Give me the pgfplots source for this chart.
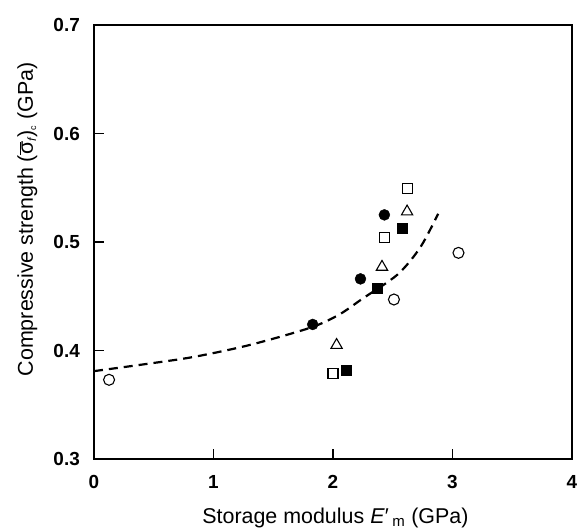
\documentclass[border=0pt]{standalone}
\usepackage{fontspec}
\setmainfont{Liberation Sans}
\usepackage{pgfplots}
\pgfplotsset{compat=1.18}
\begin{document}
\begin{tikzpicture}
\begin{axis}[
  scale only axis,
  width=478bp, height=434bp,
  xmin=0, xmax=4, ymin=0.3, ymax=0.7,
  xtick={0,1,2,3,4}, ytick={0.3,0.4,0.5,0.6,0.7},
  yticklabel style={/pgf/number format/fixed,/pgf/number format/precision=1,/pgf/number format/fixed zerofill, anchor=east, xshift=-14bp},
  xticklabel style={anchor=north, yshift=-16bp},
  /pgf/number format/assume math mode=true,
  ticklabel style={font=\fontsize{19}{20}\selectfont\bfseries, inner sep=0pt},
  tick pos=left,
  tick align=inside,
  major tick length=10bp,
  axis line style={line width=2bp},
  every tick/.style={line width=1.6bp, black},
  xlabel={Storage modulus \textit{E}′\,\textsubscript{m} (GPa)},
  ylabel={Compressive strength (\ensuremath{\overline{\mbox{σ}}_{\mbox{\fontsize{12}{12}\selectfont\itshape f}}})\ensuremath{_{\mbox{\fontsize{9}{9}\selectfont c}}} (GPa)},
  label style={font=\fontsize{21.5}{24}\selectfont, inner sep=0pt},
  xlabel style={at={(axis description cs:0.505,0)}, anchor=base, yshift=-64bp},
  ylabel style={at={(axis description cs:0,0.552)}, anchor=base, yshift=61bp},
]
% fitted dashed curve
\addplot[black, line width=2.2bp, dash pattern=on 9bp off 6bp, smooth, tension=0.5] coordinates {
 (0,0.381) (0.4,0.387) (0.83,0.394) (1.3,0.405) (1.81,0.421) (2.05,0.433) (2.25,0.448) (2.54,0.470) (2.73,0.495) (2.88,0.526)
};
% filled circles
\addplot[only marks, mark=*, mark size=5.5bp, black] coordinates {
 (1.83,0.424) (2.23,0.466) (2.43,0.525)
};
% open circles
\addplot[only marks, mark=o, mark size=5.5bp, black, mark options={line width=1.1bp}] coordinates {
 (0.126,0.373) (2.51,0.447) (3.05,0.490)
};
% open triangles
\addplot[only marks, mark=triangle, mark size=6.5bp, black, mark options={line width=1.1bp}] coordinates {
 (2.03,0.405) (2.41,0.477) (2.62,0.528)
};
% open squares
\addplot[only marks, mark=square, mark size=5bp, black, mark options={line width=1.1bp}] coordinates {
 (2.00,0.379) (2.43,0.504) (2.62,0.549)
};
% filled squares
\addplot[only marks, mark=square*, mark size=5bp, black] coordinates {
 (2.11,0.382) (2.37,0.457) (2.58,0.513)
};
\end{axis}
\path (current axis.south west) ++(-94bp,-69bp);
\path (current axis.north east) ++(6bp,25bp);
\end{tikzpicture}
\end{document}
